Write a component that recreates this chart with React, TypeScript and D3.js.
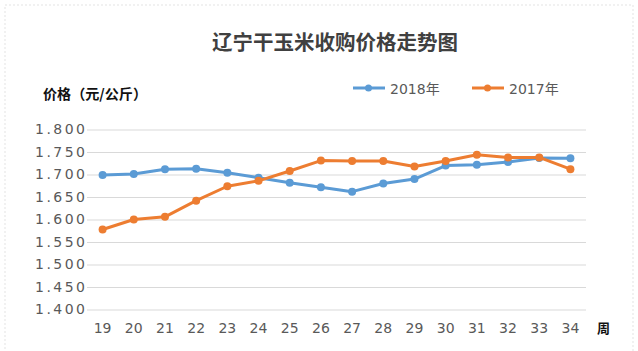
import React from "react";
import * as d3 from "d3";

const weeks = ["19","20","21","22","23","24","25","26","27","28","29","30","31","32","33","34"];
const series2018 = [1.700,1.702,1.713,1.714,1.705,1.694,1.683,1.673,1.663,1.681,1.691,1.721,1.723,1.729,1.738,1.737];
const series2017 = [1.579,1.601,1.607,1.643,1.675,1.687,1.709,1.732,1.731,1.731,1.719,1.731,1.745,1.739,1.739,1.713];
const yTicks = [1.4,1.45,1.5,1.55,1.6,1.65,1.7,1.75,1.8];
const seriesNames = ["2018年","2017年"];
const colors = ["#5B9BD5","#ED7D31"];

export default function App() {
  const W = 638, H = 351;
  const x = d3.scaleBand().domain(weeks).range([87, 586]);
  const y = d3.scaleLinear().domain([1.4, 1.8]).range([310, 130]);
  const cx = (i: number) => (x(weeks[i]) as number) + x.bandwidth() / 2;
  const line = d3.line<number>().x((_, i) => cx(i)).y((d) => y(d));
  const cjk = "'Noto Sans CJK SC','Microsoft YaHei',sans-serif";
  const num = "'DejaVu Sans','Noto Sans CJK SC',sans-serif";
  const allSeries = [series2018, series2017];
  return (
    <svg width={W} height={H} style={{ position: "absolute", left: 0, top: 0, background: "#fff" }}>
      <rect x={0} y={0} width={W} height={H} fill="#fff" />
      <rect x={5} y={5} width={628} height={360} fill="none" stroke="#e3e3e3" strokeDasharray="2,2" />
      <text x={335} y={50} textAnchor="middle" fontSize={20.5} fontWeight={600} fill="#404040" fontFamily={cjk}
        textLength={246} lengthAdjust="spacingAndGlyphs">辽宁干玉米收购价格走势图</text>
      <text x={43} y={99} fontSize={14} fontWeight="bold" fill="#111" fontFamily={cjk}
        textLength={104} lengthAdjust="spacingAndGlyphs">价格（元/公斤）</text>
      {seriesNames.map((n, i) => {
        const lx = [353, 472][i];
        return (
          <g key={n}>
            <line x1={lx} x2={lx + 32} y1={88} y2={88} stroke={colors[i]} strokeWidth={3} />
            <circle cx={lx + 15.5} cy={88} r={3.5} fill={colors[i]} />
            <text x={lx + 37} y={94} fontSize={14} fill="#595959" fontFamily={num}>{n}</text>
          </g>
        );
      })}
      {yTicks.map((t) => (
        <g key={t}>
          <line x1={87} x2={586} y1={y(t)} y2={y(t)} stroke="#d9d9d9" strokeWidth={1} />
          <text x={35} y={y(t) + 4} fontSize={14} fill="#595959" fontFamily={num}
            textLength={50} lengthAdjust="spacing">{t.toFixed(3)}</text>
        </g>
      ))}
      {weeks.map((w, i) => (
        <text key={w} x={cx(i)} y={333} textAnchor="middle" fontSize={14} fill="#595959" fontFamily={num}>{w}</text>
      ))}
      <text x={597} y={333} fontSize={13} fontWeight="bold" fill="#111" fontFamily={cjk}>周</text>
      {allSeries.map((s, si) => (
        <g key={si}>
          <path d={line(s) as string} fill="none" stroke={colors[si]} strokeWidth={3} strokeLinejoin="round" />
          {s.map((v, i) => (
            <circle key={i} cx={cx(i)} cy={y(v)} r={4} fill={colors[si]} />
          ))}
        </g>
      ))}
    </svg>
  );
}
